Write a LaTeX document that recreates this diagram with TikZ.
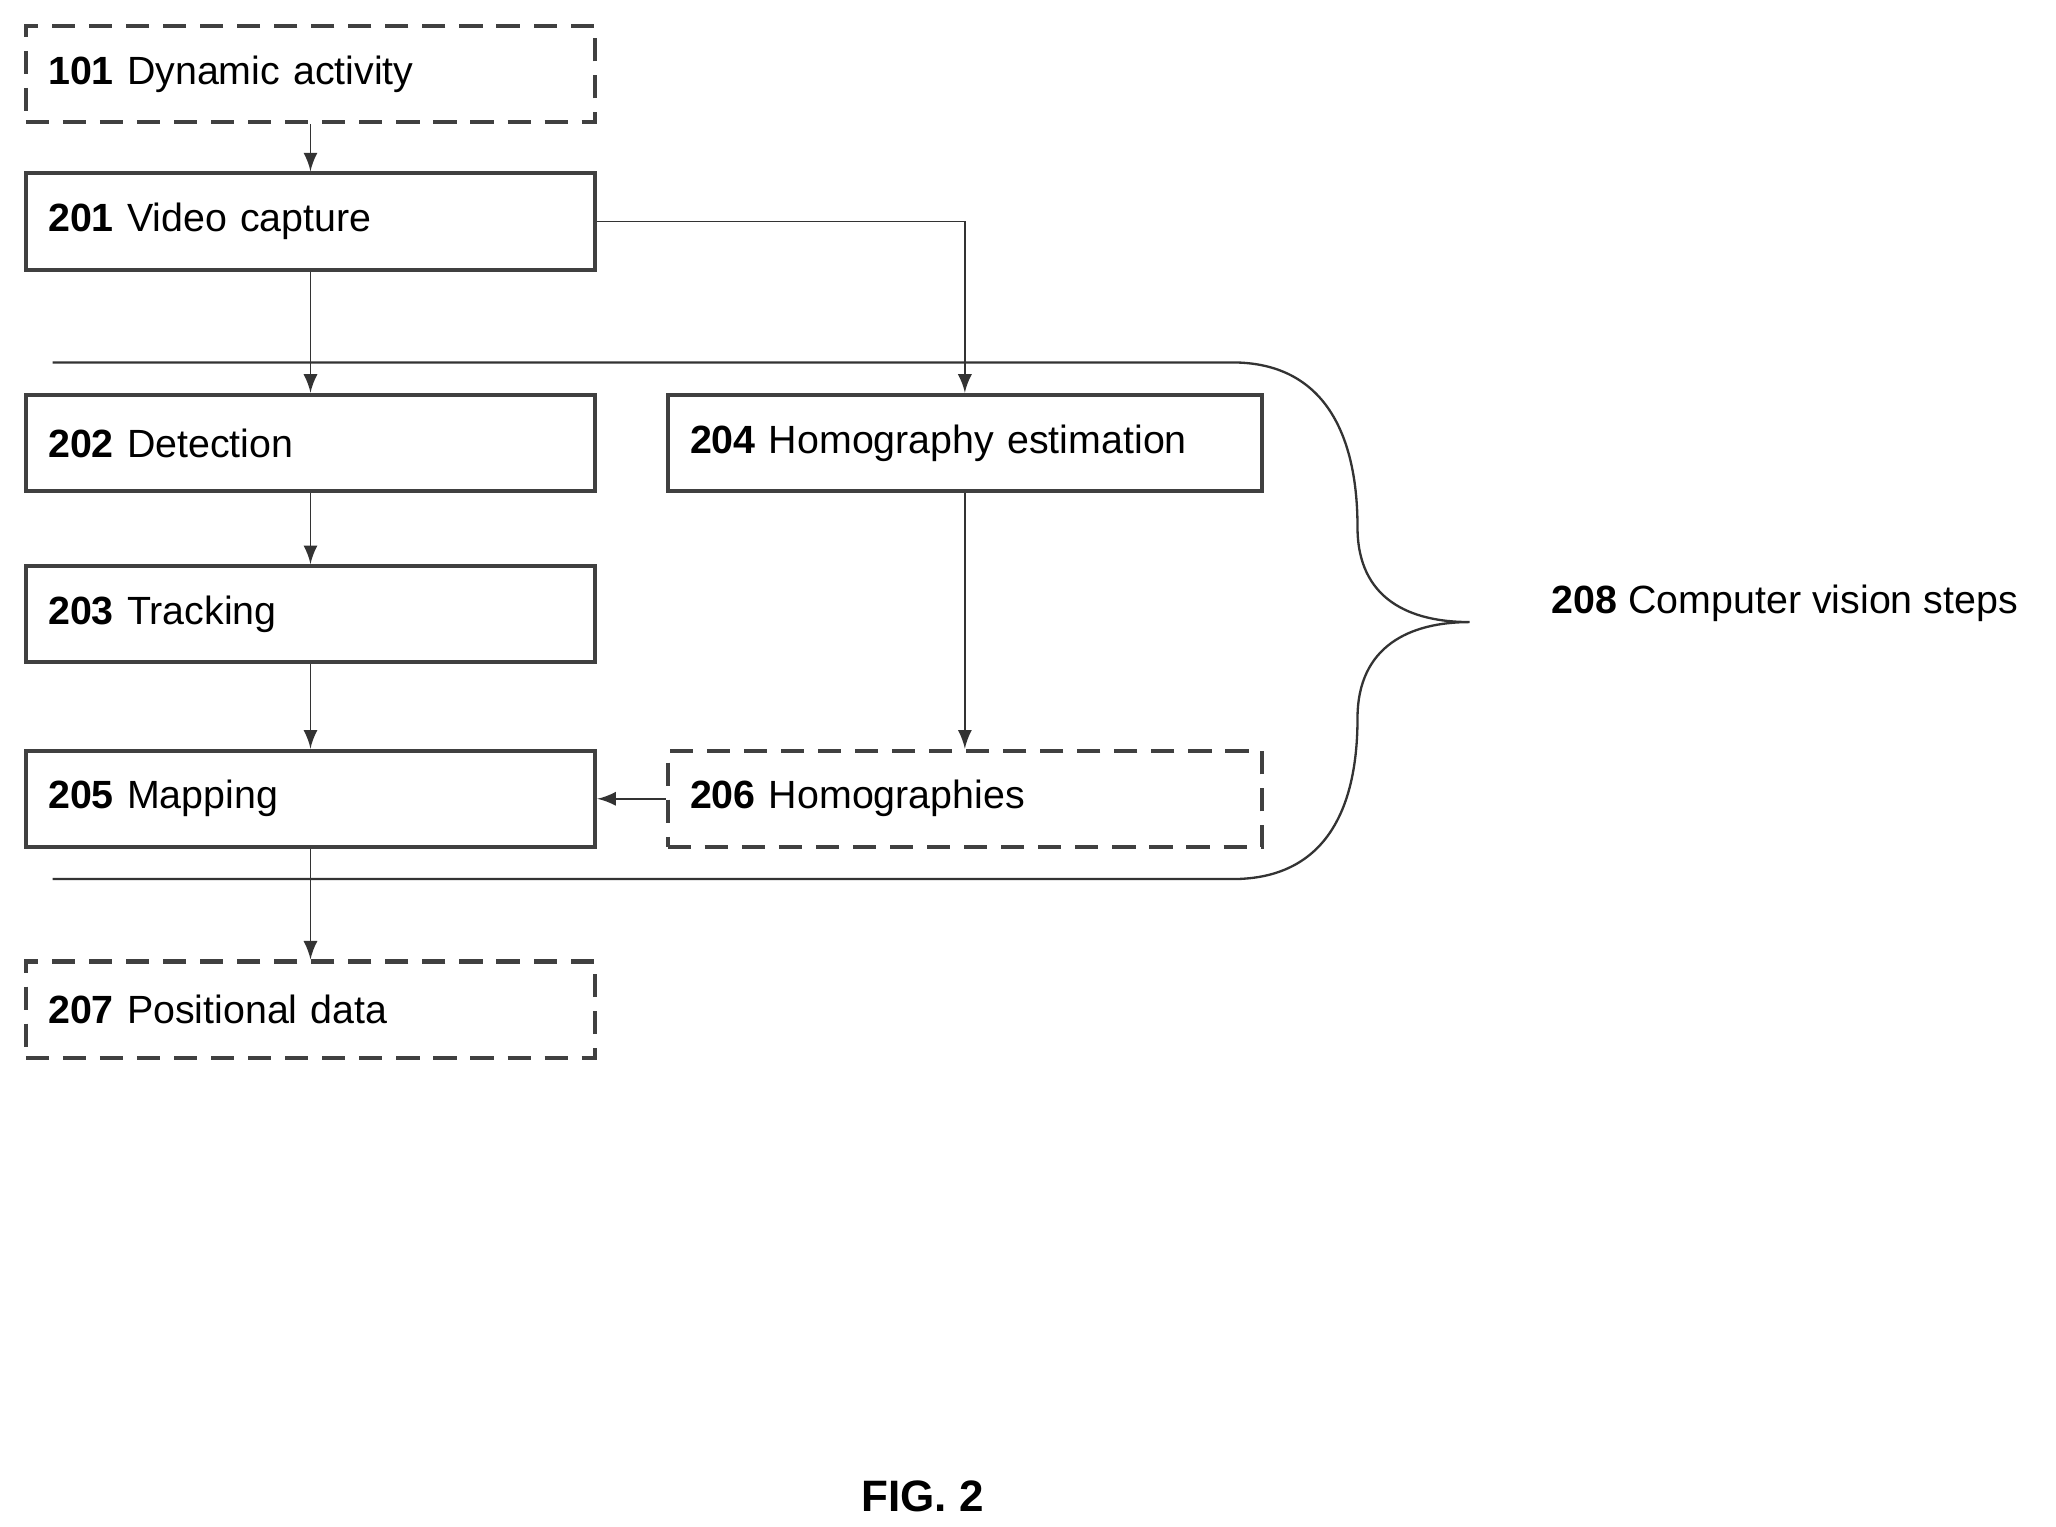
\documentclass[tikz,border=0pt]{standalone}
\usepackage{fontspec}
\setmainfont{Liberation Sans}
\usetikzlibrary{positioning,arrows}
\tikzstyle{stage} = [rectangle, draw=black!75, line width=0.9pt, anchor=north west,
    minimum width=4.32cm, minimum height=0.73cm, inner xsep=0.17cm,
    text width=3.98cm, align=left, font=\fontsize{8.5}{10}\selectfont]
\tikzstyle{wide} = [stage, minimum width=4.51cm, text width=4.17cm]
\tikzstyle{io} = [dashed, dash pattern=on 5pt off 3pt]
\tikzstyle{line} = [draw, black!80, line width=0.4pt, -latex]
\begin{document}
\begin{tikzpicture}
  \useasboundingbox (0,0) rectangle (15.6,-11.58);
  % Place nodes
  \node [stage, io] (act) at (0.18,-0.18) {\textbf{101} Dynamic activity};
  \node [stage] (cap) at (0.18,-1.30) {\textbf{201} Video capture};
  \node [stage] (det) at (0.18,-2.98) {\textbf{202} Detection};
  \node [wide] (hom) at (5.05,-2.98) {\textbf{204} Homography estimation};
  \node [stage] (trk) at (0.18,-4.28) {\textbf{203} Tracking};
  \node [stage] (map) at (0.18,-5.68) {\textbf{205} Mapping};
  \node [wide, io] (homs) at (5.05,-5.68) {\textbf{206} Homographies};
  \node [stage, io] (pos) at (0.18,-7.28) {\textbf{207} Positional data};
  \node [anchor=west, font=\fontsize{8.5}{10}\selectfont] (cvs) at (11.65,-4.58) {\textbf{208} Computer vision steps};
  \node [font=\bfseries\fontsize{9.5}{11}\selectfont] (fig) at (7.0,-11.35) {FIG. 2};
  % Draw edges
  \path [line] (act) -- (cap);
  \path [line] (cap) -- (det);
  \path [line] (cap.east) -| (hom.north);
  \path [line] (det) -- (trk);
  \path [line] (trk) -- (map);
  \path [line] (hom) -- (homs);
  \path [line] (homs) -- (map);
  \path [line] (map) -- (pos);
  % Brace round the vision steps
  \coordinate (tip) at (11.15,-4.72);
  \draw [black!80, line width=0.5pt] (0.4,-2.75) -- (9.35,-2.75)
    .. controls (10.05,-2.75) and (10.3,-3.3) .. (10.3,-4.0)
    .. controls (10.3,-4.55) and (10.7,-4.72) .. (tip)
    .. controls (10.7,-4.72) and (10.3,-4.9) .. (10.3,-5.45)
    .. controls (10.3,-6.15) and (10.05,-6.67) .. (9.35,-6.67) -- (0.4,-6.67);
\end{tikzpicture}
\end{document}
